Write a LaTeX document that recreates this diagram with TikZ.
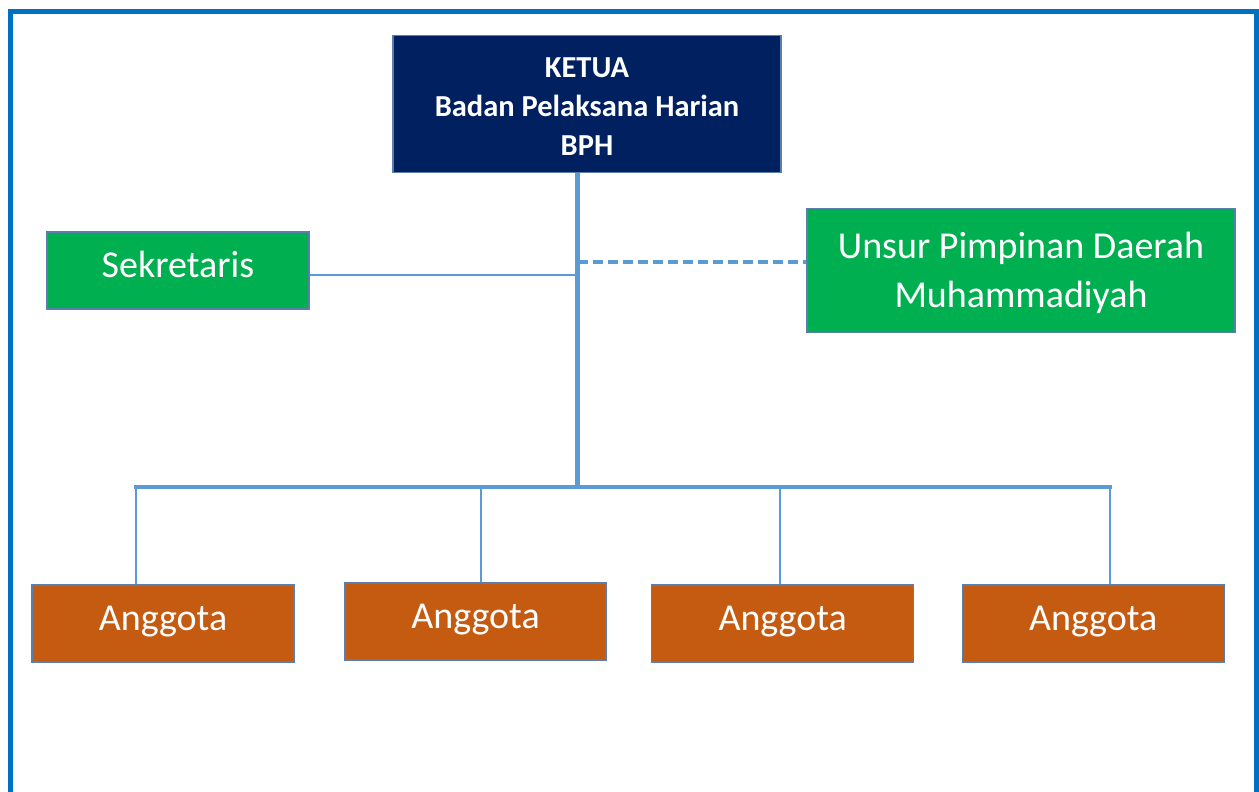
\documentclass[tikz,border=0pt]{standalone}
\usepackage{fontspec}
\setmainfont{Carlito}
\definecolor{navy}{HTML}{002060}
\definecolor{ugreen}{HTML}{00B050}
\definecolor{uorange}{HTML}{C55A11}
\definecolor{linkblue}{HTML}{5B9BD5}
\definecolor{framblue}{HTML}{0070C0}
\definecolor{boxline}{HTML}{5A7FAF}
\tikzset{
  box/.style={draw=boxline, line width=1.2pt, inner sep=0pt, text=white, align=center},
  navybox/.style={box, fill=navy, font=\bfseries\fontsize{30.5}{38.7}\selectfont},
  greenbox/.style={box, fill=ugreen, font=\fontsize{38}{49}\selectfont},
  orangebox/.style={box, fill=uorange, font=\fontsize{38}{49}\selectfont, text height=26pt, text depth=12pt},
  thickline/.style={draw=linkblue, line width=4.5pt},
  thinline/.style={draw=linkblue, line width=1.6pt},
  dashline/.style={draw=linkblue, line width=3.5pt, dash pattern=on 10pt off 5pt},
  framestyle/.style={draw=framblue, line width=5pt, line join=miter}
}
\begin{document}
\begin{tikzpicture}[x=1pt,y=-1pt]
\useasboundingbox (0,0) rectangle (1259,792);
% frame
\draw[framestyle] (10.8,792) -- (10.8,11.7) -- (1256,11.7) -- (1256,792);
% boxes
\node[navybox, minimum width=388pt, minimum height=137pt] (ketua) at (587,104.3) {\rule{0pt}{24pt}KETUA\\Badan Pelaksana Harian\\BPH};
\node[greenbox, minimum width=262pt, minimum height=77pt, text height=26pt, text depth=12pt] (sek) at (177.9,270.4) {Sekretaris};
\node[greenbox, minimum width=428pt, minimum height=124pt] (unsur) at (1021,270.3) {\rule{0pt}{32pt}Unsur Pimpinan Daerah\\Muhammadiyah};
\node[orangebox, minimum width=262pt, minimum height=77pt] (a1) at (163,623.5) {Anggota};
\node[orangebox, minimum width=261pt, minimum height=77pt] (a2) at (475.5,621.5) {Anggota};
\node[orangebox, minimum width=262pt, minimum height=77pt] (a3) at (782.7,623.5) {Anggota};
\node[orangebox, minimum width=262pt, minimum height=77pt] (a4) at (1093.2,623.5) {Anggota};
% connector points
\coordinate (hub) at (577.5,487);
\coordinate (js) at (577.5,275);
\coordinate (ju) at (577.5,262);
\coordinate (b1) at (136,487);
\coordinate (b2) at (481,487);
\coordinate (b3) at (780,487);
\coordinate (b4) at (1110,487);
% connectors
\draw[thinline] (sek.east |- js) -- (js);
\draw[dashline] (ju) -- (ju -| unsur.west);
\draw[thinline] (b1) -- (b1 |- a1.north);
\draw[thinline] (b2) -- (b2 |- a2.north);
\draw[thinline] (b3) -- (b3 |- a3.north);
\draw[thinline] (b4) -- (b4 |- a4.north);
\draw[thickline] (hub |- ketua.south) -- (hub);
\draw[thickline, line cap=rect] (b1) -- (b4);
\end{tikzpicture}
\end{document}
